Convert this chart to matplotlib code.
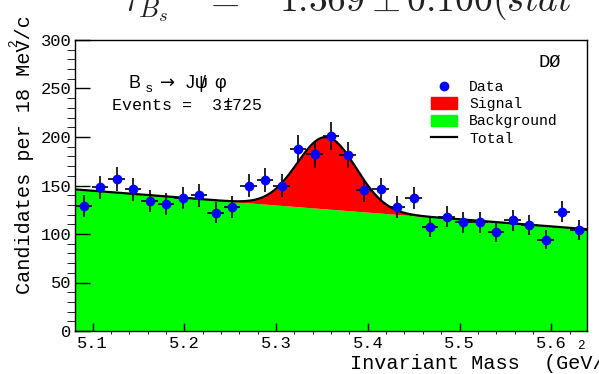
import numpy as np
import matplotlib
matplotlib.use("Agg")
import matplotlib.pyplot as plt
from matplotlib.patches import Patch
from matplotlib.lines import Line2D
from matplotlib.ticker import MultipleLocator, FormatStrFormatter

plt.rcParams["font.family"] = ["Liberation Mono", "DejaVu Sans"]
plt.rcParams["mathtext.fontset"] = "cm"

# histogram: 18 MeV bins, centres in GeV/c^2
mass = [5.090, 5.108, 5.126, 5.144, 5.162, 5.180, 5.198, 5.216, 5.234, 5.252,
        5.270, 5.288, 5.306, 5.324, 5.342, 5.360, 5.378, 5.396, 5.414, 5.432,
        5.450, 5.468, 5.486, 5.504, 5.522, 5.540, 5.558, 5.576, 5.594, 5.612,
        5.630]
counts = [129, 148, 157, 146, 134, 131, 137, 140, 122, 128,
          150, 156, 150, 188, 182, 201, 181, 145, 146, 128,
          137, 107, 118, 112, 112, 102, 114, 109, 94, 123,
          104]
bin_half = 0.009

# fit result: linear background + gaussian signal
x_lo, x_hi = 5.0807, 5.6387
bg_left, bg_right = 146.0, 105.0
sig_mean, sig_sigma, sig_peak = 5.355, 0.032, 74.0

BLUE = "#0000ff"
RED = "#ff0000"
GREEN = "#00ff00"

W, H = 599, 374


def fx(px):
    return px / W


def fy(py):
    return 1 - py / H


fig = plt.figure(figsize=(W / 100, H / 100), dpi=100)
fig.patch.set_facecolor("white")
ax = fig.add_axes([fx(75), fy(331), (586.7 - 75) / W, (331 - 40) / H])

xf = np.linspace(x_lo, x_hi, 600)
bg = bg_left + (bg_right - bg_left) * (xf - x_lo) / (x_hi - x_lo)
sig = sig_peak * np.exp(-0.5 * ((xf - sig_mean) / sig_sigma) ** 2)
tot = bg + sig

ax.fill_between(xf, 0, bg, color=GREEN, lw=0, zorder=1)
ax.fill_between(xf, bg, tot, color=RED, lw=0, zorder=1)
ax.plot(xf, tot, color="black", lw=1.6, zorder=2)

m = np.array(mass)
c = np.array(counts, dtype=float)
ax.errorbar(m, c, yerr=np.sqrt(c), xerr=bin_half, fmt="none",
            ecolor="black", elinewidth=1.2, capsize=0, zorder=3)
ax.plot(m, c, "o", color=BLUE, markersize=6, zorder=4)

ax.set_xlim(x_lo, x_hi)
ax.set_ylim(0, 300)
ax.xaxis.set_major_locator(MultipleLocator(0.1))
ax.xaxis.set_minor_locator(MultipleLocator(0.02))
ax.yaxis.set_major_locator(MultipleLocator(50))
ax.yaxis.set_minor_locator(MultipleLocator(10))
ax.xaxis.set_major_formatter(FormatStrFormatter("%.1f"))
ax.tick_params(axis="both", direction="in", width=1, colors="black",
               labelsize=12.3, top=False, right=False)
ax.tick_params(axis="y", which="major", length=11, pad=2.5)
ax.tick_params(axis="y", which="minor", length=5.5)
ax.tick_params(axis="x", which="major", length=5.5, pad=3.5)
ax.tick_params(axis="x", which="minor", length=2.5)
for s in ax.spines.values():
    s.set_linewidth(1.0)
    s.set_zorder(5)

# axis titles (ROOT style, right/top aligned and running off the canvas)
fig.text(fx(350), fy(369), "Invariant Mass  (GeV/c", fontsize=14.5,
         ha="left", va="baseline")
fig.text(fx(577), fy(349), "2", fontsize=9, ha="left", va="baseline")
fig.text(fx(30), fy(294), "Candidates per 18 MeV/c", fontsize=14.5,
         rotation=90, rotation_mode="anchor", ha="left", va="baseline")
fig.text(fx(17), fy(47), "2", fontsize=9, rotation=90,
         rotation_mode="anchor", ha="left", va="baseline")

# decay label
sans = ["Liberation Sans", "DejaVu Sans"]
fig.text(fx(129), fy(88), "B", fontsize=13, family=sans, va="baseline")
fig.text(fx(146), fy(92), "s", fontsize=9.5, family=sans, va="baseline")
fig.text(fx(160), fy(88), "\u2192", fontsize=13, family="DejaVu Sans",
         va="baseline")
fig.text(fx(186), fy(88), "J", fontsize=13, family=sans, va="baseline")
fig.text(fx(195), fy(88), "\u03c8", fontsize=13, family=sans, va="baseline")
fig.text(fx(201), fy(88), "/", fontsize=13, family=sans, va="baseline")
fig.text(fx(214), fy(88), "\u03c6", fontsize=13, family=sans, va="baseline")
fig.text(fx(112), fy(110), "Events =  3 725", fontsize=12, va="baseline")
fig.text(fx(223), fy(110), "1", fontsize=11, va="baseline")
fig.text(fx(223), fy(107), "\u00b1", fontsize=11, va="baseline")

# experiment tag + legend
fig.text(fx(538), fy(67), "D\u00d8", fontsize=13.5, va="baseline")
handles = [
    Line2D([], [], ls="none", marker="o", color=BLUE, markersize=6),
    Patch(facecolor=RED, edgecolor=RED),
    Patch(facecolor=GREEN, edgecolor=GREEN),
    Line2D([], [], color="black", lw=1.6),
]
ax.legend(handles, ["Data", "Signal", "Background", "Total"],
          loc="upper left", bbox_to_anchor=(fx(431), fy(80)),
          bbox_transform=fig.transFigure, frameon=False, fontsize=10.6,
          handlelength=1.75, handleheight=0.85, handletextpad=0.85,
          labelspacing=0.22, borderpad=0, borderaxespad=0)

# clipped equation strip at the very top of the page
fig.text(fx(122), fy(10.7),
         r"$\tau_{B_s}\ \ \ =\ \ \ 1.369 \pm 0.100(stat$",
         fontsize=27, color="#222222", ha="left", va="baseline")

fig.savefig("out.png", dpi=100)
